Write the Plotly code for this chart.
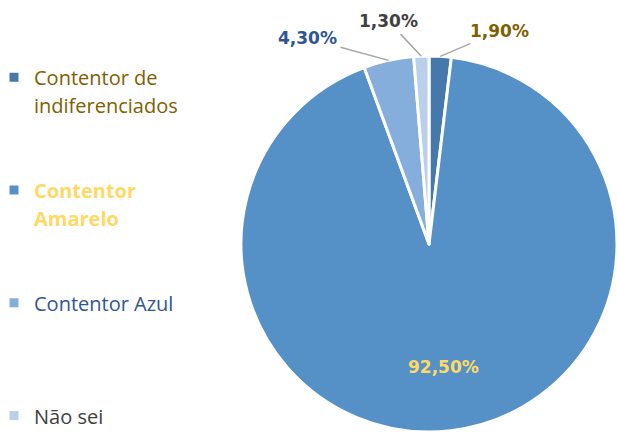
import math
import plotly.graph_objects as go

categories = ["Contentor de indiferenciados", "Contentor Amarelo", "Contentor Azul", "Não sei"]
values = [1.9, 92.5, 4.3, 1.3]
slice_colors = ["#4679AB", "#5591C7", "#86AEDC", "#B9CFEA"]
text_colors = ["#7F6000", "#FFD966", "#2F5597", "#404040"]
legend_lines = [["Contentor de", "indiferenciados"], ["Contentor", "Amarelo"], ["Contentor Azul"], ["Não sei"]]
legend_bold = [False, True, False, False]
# label placement: (radius fraction, pixel offset x, pixel offset y) -- None offset => inside label
label_place = [(1.0, 59, -25), (0.66, None, None), (1.0, -81, -22), (1.0, -33, -35)]

W, H = 617, 436
cx, cy, r = 429, 244, 188
LINES_PER_ITEM = 4


def legend_text(i):
    body = "<br>".join(legend_lines[i])
    if legend_bold[i]:
        body = "<b>" + body + "</b>"
    pad = "<br> " * (LINES_PER_ITEM - len(legend_lines[i])) if i < len(legend_lines) - 1 else ""
    return f"<span style='color:{text_colors[i]};font-size:20px'>{body}</span>{pad}"


legend_labels = [legend_text(i) for i in range(len(categories))]

fig = go.Figure(go.Pie(
    labels=legend_labels,
    values=values,
    sort=False,
    direction="clockwise",
    rotation=0,
    marker=dict(colors=slice_colors, line=dict(color="white", width=3)),
    textinfo="none",
    domain=dict(x=[max(0, (cx - r) / W), min(1, (cx + r) / W)],
                y=[max(0, (H - cy - r) / H), min(1, (H - cy + r) / H)]),
    hoverinfo="skip",
))

total = sum(values)
cum = 0.0
annotations = []
for i, v in enumerate(values):
    mid = (cum + v / 2) / total * 2 * math.pi
    cum += v
    frac, ox, oy = label_place[i]
    px = cx + frac * r * math.sin(mid)
    py = cy - frac * r * math.cos(mid)
    txt = "<b>" + f"{v:.2f}".replace(".", ",") + "%</b>"
    ann = dict(
        x=px / W, y=1 - py / H, xref="paper", yref="paper",
        xanchor="center", yanchor="middle",
        text=txt,
        font=dict(family="DejaVu Sans", size=17, color=text_colors[i]),
    )
    if ox is None:
        ann.update(showarrow=False)
    else:
        ann.update(showarrow=True, ax=ox, ay=oy, arrowhead=0, arrowwidth=1.5,
                   arrowcolor="#A6A6A6", standoff=0, startstandoff=2)
    annotations.append(ann)

fig.update_layout(
    width=W, height=H,
    margin=dict(l=0, r=0, t=0, b=0),
    paper_bgcolor="white",
    showlegend=True,
    annotations=annotations,
    legend=dict(
        x=0, y=0, xanchor="left", yanchor="bottom",
        font=dict(family="Open Sans", size=21.1),
        valign="top",
        indentation=-6,
        itemclick=False,
        bgcolor="rgba(0,0,0,0)",
    ),
)

fig.write_html("out.html", config={"displayModeBar": False},
               post_script="document.body.style.margin='0';")
